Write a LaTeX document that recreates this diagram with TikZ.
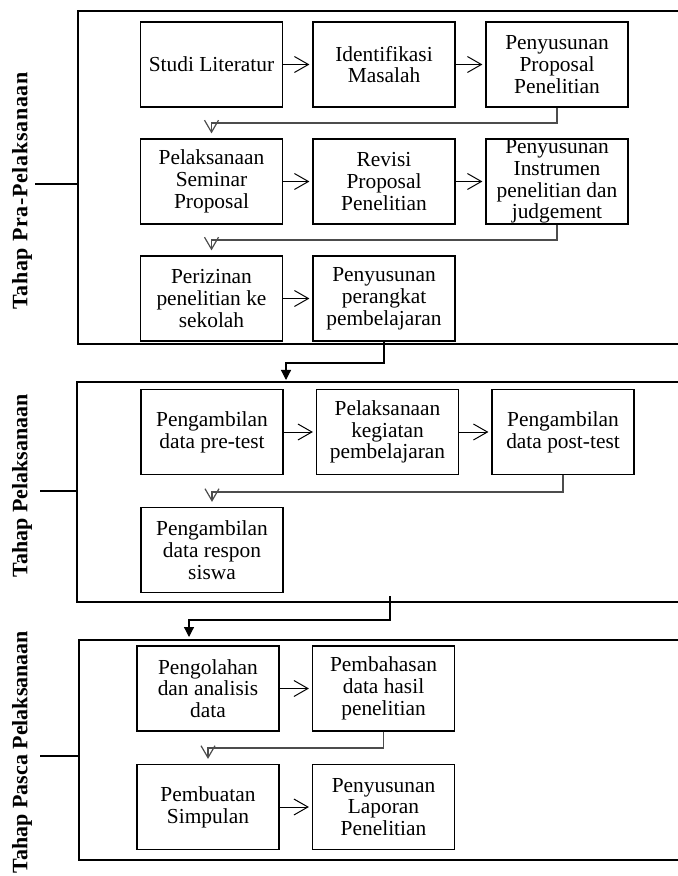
\documentclass[tikz,border=0pt]{standalone}
\usepackage{fontspec}
\setmainfont{Liberation Serif}
\usetikzlibrary{arrows.meta,calc}
\begin{document}
\begin{tikzpicture}[x=0.5pt,y=-0.5pt,
  stepbox/.style={draw,line width=0.6pt,minimum width=71pt,minimum height=42.5pt,
    align=center,inner sep=0pt,font=\fontsize{10.7pt}{10.9pt}\selectfont},
  frame/.style={draw,line width=0.6pt,inner sep=0pt},
  hconn/.style={line width=0.5pt,-{Straight Barb[length=7pt,width=8pt]},shorten >=1.5pt},
  vconn/.style={line width=0.6pt,draw=black!70,-{Straight Barb[length=6pt,width=7pt]},shorten >=2.5pt},
  fconn/.style={line width=0.6pt,-{Triangle[length=5pt,width=5pt]}},
  tick/.style={line width=0.6pt},
  phase/.style={rotate=90,font=\bfseries\fontsize{11pt}{12pt}\selectfont}]
\useasboundingbox (0,0) rectangle (678,876);
% frames
\node[frame,minimum width=301pt,minimum height=166.5pt] (f1) at (379,177.5) {};
\node[frame,minimum width=301.5pt,minimum height=110pt] (f2) at (378.5,492) {};
\node[frame,minimum width=300.5pt,minimum height=110pt] (f3) at (379.5,750) {};
% phase labels
\node[phase] (l1) at (22,191) {\addfontfeature{LetterSpace=3}Tahap Pra-Pelaksanaan};
\node[phase] (l2) at (22,486) {Tahap Pelaksanaan};
\node[phase] (l3) at (22,752) {Tahap Pasca Pelaksanaan};
\coordinate (t1) at (35,184);
\coordinate (t2) at (40,491);
\coordinate (t3) at (40,756);
\draw[tick] (t1) -- (f1.west |- t1);
\draw[tick] (t2) -- (f2.west |- t2);
\draw[tick] (t3) -- (f3.west |- t3);
% frame 1 boxes
\node[stepbox] (a1) at (211.5,64.5) {Studi Literatur};
\node[stepbox] (a2) at (384,64.5) {Identifikasi\\Masalah};
\node[stepbox] (a3) at (557,64.5) {Penyusunan\\Proposal\\Penelitian};
\node[stepbox] (b1) at (211.5,181.5) {Pelaksanaan\\Seminar\\Proposal};
\node[stepbox] (b2) at (384,181.5) {Revisi\\Proposal\\Penelitian};
\node[stepbox] (b3) at (557,181.5) {Penyusunan\\Instrumen\\penelitian dan\\judgement};
\node[stepbox] (c1) at (211.5,298.5) {Perizinan\\penelitian ke\\sekolah};
\node[stepbox] (c2) at (384,298.5) {Penyusunan\\perangkat\\pembelajaran};
\draw[hconn] (a1) -- (a2);
\draw[hconn] (a2) -- (a3);
\draw[hconn] (b1) -- (b2);
\draw[hconn] (b2) -- (b3);
\draw[hconn] (c1) -- (c2);
\coordinate (j1) at (211.5,123);
\coordinate (j2) at (211.5,240);
\draw[vconn] (a3.south) |- (j1) -- (b1.north);
\draw[vconn] (b3.south) |- (j2) -- (c1.north);
% link frame 1 -> frame 2
\coordinate (k1) at (286,363);
\coordinate (k1e) at (286,380);
\draw[fconn] (c2.south) |- (k1) -- (k1e);
% frame 2 boxes
\node[stepbox] (d1) at (212,432) {Pengambilan\\data pre-test};
\node[stepbox] (d2) at (387.5,432) {Pelaksanaan\\kegiatan\\pembelajaran};
\node[stepbox] (d3) at (563,432) {Pengambilan\\data post-test};
\node[stepbox] (e1) at (212,550) {Pengambilan\\data respon\\siswa};
\draw[hconn] (d1) -- (d2);
\draw[hconn] (d2) -- (d3);
\coordinate (j3) at (212,492);
\draw[vconn] (d3.south) |- (j3) -- (e1.north);
% link frame 2 -> frame 3
\coordinate (m0) at (390,596);
\coordinate (m1) at (189,620);
\coordinate (m1e) at (189,637);
\draw[fconn] (m0) |- (m1) -- (m1e);
% frame 3 boxes
\node[stepbox] (g1) at (208,688.5) {Pengolahan\\dan analisis\\data};
\node[stepbox] (g2) at (383.5,688.5) {Pembahasan\\data hasil\\penelitian};
\node[stepbox] (h1) at (208,807) {Pembuatan\\Simpulan};
\node[stepbox] (h2) at (383.5,807) {Penyusunan\\Laporan\\Penelitian};
\draw[hconn] (g1) -- (g2);
\draw[hconn] (h1) -- (h2);
\coordinate (j4) at (208,748);
\draw[vconn] (g2.south) |- (j4) -- (h1.north);
\end{tikzpicture}
\end{document}
